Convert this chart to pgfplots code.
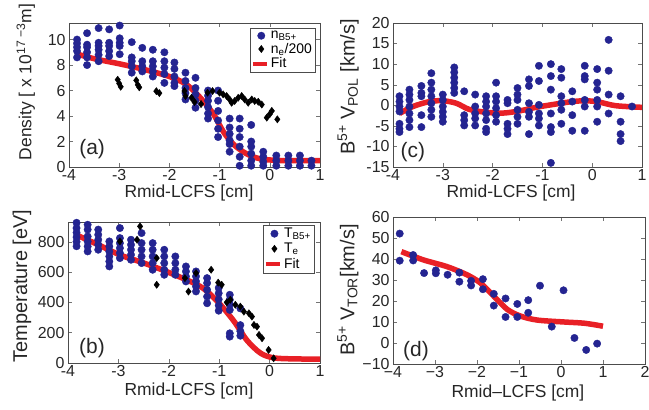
\documentclass[border=0pt]{standalone}
\usepackage{fontspec}
\setmainfont{Liberation Sans}
\usepackage{pgfplots}
\pgfplotsset{compat=1.18}
\definecolor{bluedot}{RGB}{36,36,145}
\definecolor{fitred}{RGB}{232,32,38}
\tikzset{panel label/.style={font=\fontsize{21}{23}\selectfont, text=black!85}}
\pgfplotsset{
  every axis/.append style={
    scale only axis, tick align=inside, clip=false,
    axis line style={black!70, line width=0.5pt},
    tick style={black!55, line width=0.4pt},
    major tick length=4bp,
    ticklabel style={font=\fontsize{16}{17}\selectfont, text=black!85},
    xticklabel style={inner sep=2pt},
    /pgf/number format/assume math mode=true,
    xlabel style={font=\fontsize{17.5}{19}\selectfont, text=black!85, anchor=center},
    ylabel style={font=\fontsize{20}{22}\selectfont, text=black!85, anchor=center, rotate=0},
    legend style={draw=black!70, font=\fontsize{14}{15}\selectfont, inner sep=1pt, row sep=-1pt, legend cell align=left},
  },
  blue dots/.style={only marks, mark=*, mark size=3.7bp, color=bluedot, mark options={fill=bluedot, draw=bluedot}},
  black dia/.style={only marks, mark=diamond*, mark size=3.6bp, color=black, mark options={fill=black}},
  fit line/.style={smooth, line width=5.5bp, color=fitred, no marks,
     legend image code/.code={\draw[fitred, line width=4bp] (0cm,0cm) -- (0.5cm,0cm);}},
}
\begin{document}
\begin{tikzpicture}
\useasboundingbox (0,0) rectangle (649bp,410bp);
% ---------------- (a)
\begin{axis}[at={(69bp,243bp)}, anchor=south west, width=251bp, height=144bp,
  xmin=-4, xmax=1, ymin=0, ymax=11.3, xtick={-4,-3,-2,-1,0,1}, ytick={0,2,4,6,8,10},
  xlabel={Rmid-LCFS [cm]}, xlabel style={at={(axis description cs:0.478,-0.178)}},
  ylabel={Density [ x 10\textsuperscript{17 −3}m]}, ylabel style={font=\fontsize{17.5}{19}\selectfont, at={(axis description cs:-0.172,0.59)}},
  legend style={at={(0.98,0.965)}, anchor=north east}]
\addplot[blue dots] coordinates {
(-3.84,10.0)(-3.84,9.7)(-3.84,9.4)(-3.84,9.1)(-3.84,8.6)
(-3.64,10.5)(-3.64,9.6)(-3.64,9.4)(-3.64,9.0)(-3.64,8.6)(-3.64,8.0)
(-3.41,10.9)(-3.41,9.75)(-3.41,9.5)(-3.41,9.2)(-3.41,8.8)(-3.41,8.3)
(-3.20,10.8)(-3.20,9.75)(-3.20,9.5)(-3.20,9.1)(-3.20,8.7)
(-2.99,11.1)(-2.99,10.1)(-2.99,9.75)(-2.99,9.5)(-2.99,8.85)
(-2.75,9.8)(-2.75,8.6)(-2.75,8.3)(-2.75,7.9)(-2.75,7.4)
(-2.54,9.35)(-2.54,8.3)(-2.54,7.9)(-2.54,7.5)
(-2.33,9.2)(-2.33,8.3)(-2.33,7.9)(-2.33,7.5)(-2.33,7.1)
(-2.10,9.0)(-2.10,8.3)(-2.10,7.8)(-2.10,7.3)(-2.10,6.6)
(-1.90,8.2)(-1.90,7.7)(-1.90,7.1)(-1.90,6.6)(-1.90,6.35)
(-1.68,7.4)(-1.68,6.75)(-1.68,6.2)(-1.68,5.8)(-1.68,5.3)
(-1.48,7.0)(-1.48,6.2)(-1.48,5.7)(-1.48,5.2)(-1.48,4.65)
(-1.23,6.0)(-1.23,5.6)(-1.23,5.2)(-1.23,4.7)(-1.23,4.2)(-1.23,3.8)
(-1.03,6.0)(-1.03,5.2)(-1.03,4.4)(-1.03,3.65)(-1.03,3.0)(-1.03,2.35)
(-0.80,3.8)(-0.80,3.1)(-0.80,2.6)(-0.80,2.1)(-0.80,1.8)(-0.80,1.2)
(-0.60,3.8)(-0.60,3.0)(-0.60,2.35)(-0.60,1.6)(-0.60,0.8)(-0.60,0.1)
(-0.37,3.3)(-0.37,2.0)(-0.37,1.6)(-0.37,1.05)(-0.37,0.5)(-0.37,0.1)
(-0.13,1.2)(-0.13,0.8)(-0.13,0.4)(-0.13,0.1)
(0.13,0.9)(0.13,0.5)(0.13,0.1)
(0.37,0.9)(0.37,0.5)(0.37,0.1)
(0.60,0.9)(0.60,0.5)(0.60,0.1)
(0.83,0.5)(0.83,0.1)
};
\addlegendentry{n\textsubscript{B5+}}
\addplot[black dia] coordinates {
(-3.03,6.85)(-3.0,6.55)(-2.97,6.3)(-2.66,6.8)(-2.63,6.45)(-2.6,6.25)(-2.26,5.95)(-2.2,5.8)
(-1.7,5.96)(-1.68,5.57)(-1.56,5.43)(-1.5,5.1)(-1.37,4.94)(-1.24,5.83)(-1.14,5.96)(-1.0,5.83)
(-0.93,5.7)(-0.86,5.57)(-0.8,5.3)(-0.76,5.04)(-0.7,5.18)(-0.63,5.43)(-0.56,5.57)(-0.5,5.3)
(-0.43,5.04)(-0.36,5.3)(-0.3,5.18)(-0.23,5.12)(-0.16,4.9)(-0.06,3.87)(0.0,4.15)(0.04,4.4)(0.15,3.74)
};
\addlegendentry{n\textsubscript{e}/200}
\addplot[fit line] coordinates {
(-3.87,8.9)(-3.5,8.5)(-3,8.1)(-2.5,7.65)(-2,7.1)(-1.67,6.5)(-1.4,5.5)(-1.13,4.2)(-0.93,2.8)
(-0.73,1.8)(-0.47,1.05)(-0.2,0.65)(0.13,0.52)(0.5,0.5)(1,0.5)
};
\addlegendentry{Fit}
\node[panel label] at (axis description cs:0.092,0.125) {(a)};
\end{axis}
% ---------------- (c)
\begin{axis}[at={(393bp,243bp)}, anchor=south west, width=249bp, height=144bp,
  xmin=-4, xmax=1, ymin=-15, ymax=20, xtick={-4,-3,-2,-1,0,1}, ytick={-15,-10,-5,0,5,10,15,20},
  xlabel={Rmid-LCFS [cm]}, xlabel style={at={(axis description cs:0.474,-0.178)}},
  ylabel={B\textsuperscript{5+} V\textsubscript{POL} [km/s]}, ylabel style={at={(axis description cs:-0.18,0.555)}}]
\addplot[blue dots] coordinates {
(-3.87,2.2)(-3.87,0.9)(-3.87,-0.3)(-3.87,-1.5)(-3.87,-4.5)(-3.87,-5.7)(-3.87,-6.5)
(-3.67,3.8)(-3.67,2.6)(-3.67,1.3)(-3.67,-0.3)(-3.67,-2.0)(-3.67,-3.6)(-3.67,-5.3)
(-3.43,4.7)(-3.43,3.0)(-3.43,2.2)(-3.43,-2.4)(-3.43,-5.3)
(-3.23,7.8)(-3.23,5.5)(-3.23,3.8)(-3.23,2.2)(-3.23,0.5)(-3.23,-1.1)(-3.23,-2.8)
(-3.0,2.6)(-3.0,1.3)(-3.0,-0.3)(-3.0,-1.6)(-3.0,-2.8)(-3.0,-4.0)
(-2.77,9.2)(-2.77,8.0)(-2.77,6.7)(-2.77,5.5)(-2.77,4.2)(-2.77,3.0)
(-2.57,3.4)(-2.57,-2.4)(-2.57,-3.6)(-2.57,-4.9)
(-2.35,2.6)(-2.35,-0.3)(-2.35,-2.0)(-2.35,-3.2)(-2.35,-4.9)
(-2.13,2.2)(-2.13,0.9)(-2.13,-0.3)(-2.13,-2.0)(-2.13,-3.6)(-2.13,-5.7)(-2.13,-6.5)
(-1.93,5.5)(-1.93,2.2)(-1.93,0.9)(-1.93,-0.7)(-1.93,-2.4)(-1.93,-4.0)
(-1.7,1.3)(-1.7,0.5)(-1.7,-4.5)(-1.7,-5.7)(-1.7,-7.0)
(-1.5,4.2)(-1.5,2.6)(-1.5,1.3)(-1.5,-1.1)(-1.5,-2.8)(-1.5,-4.5)
(-1.27,6.3)(-1.27,4.7)(-1.27,0.5)(-1.27,-1.6)(-1.27,-2.8)(-1.27,-7.0)
(-1.07,9.6)(-1.07,5.9)(-1.07,0.1)(-1.07,-2.0)(-1.07,-3.2)(-1.07,-4.9)
(-0.83,10.0)(-0.83,7.1)(-0.83,3.8)(-0.83,-2.0)(-0.83,-5.3)(-0.83,-6.5)(-0.83,-14.0)
(-0.62,8.8)(-0.62,6.7)(-0.62,2.2)(-0.62,0.5)(-0.62,-1.1)(-0.62,-4.5)
(-0.4,3.4)(-0.4,0.9)(-0.4,-2.4)(-0.4,-6.2)
(-0.15,9.6)(-0.15,7.1)(-0.15,6.3)(-0.15,1.3)(-0.15,-0.3)(-0.15,-6.2)
(0.1,8.8)(0.1,5.5)(0.1,3.8)(0.1,1.3)(0.1,-0.3)(0.1,-4.0)
(0.33,15.9)(0.33,8.4)(0.33,2.6)(0.33,-2.0)
(0.57,2.2)(0.57,-4.0)(0.57,-7.0)(0.57,-8.7)
(0.8,-0.3)
};
\addplot[fit line] coordinates {
(-3.87,-2.0)(-3.6,-0.3)(-3.27,0.9)(-3.0,1.1)(-2.73,0.5)(-2.47,-1.0)(-2.13,-1.7)(-1.8,-1.9)
(-1.47,-1.4)(-1.13,-0.5)(-0.73,0.3)(-0.4,0.9)(-0.13,1.1)(0.13,0.8)(0.47,-0.1)(1.0,-0.5)
};
\node[panel label] at (axis description cs:0.08,0.104) {(c)};
\end{axis}
% ---------------- (b)
\begin{axis}[at={(68bp,47bp)}, anchor=south west, width=252bp, height=141bp,
  xmin=-4, xmax=1, ymin=0, ymax=930, xtick={-4,-3,-2,-1,0,1}, ytick={0,200,400,600,800},
  xlabel={Rmid-LCFS [cm]}, xlabel style={at={(axis description cs:0.48,-0.2)}},
  ylabel={Temperature [eV]}, ylabel style={at={(axis description cs:-0.183,0.546)}},
  legend style={at={(0.976,0.979)}, anchor=north east, row sep=0pt}]
\addplot[blue dots] coordinates {
(-3.83,925)(-3.83,890)(-3.83,860)(-3.83,830)(-3.83,800)(-3.83,770)
(-3.61,912)(-3.61,880)(-3.61,835)(-3.61,802)(-3.61,769)(-3.61,736)
(-3.40,880)(-3.40,846)(-3.40,813)(-3.40,780)(-3.40,747)
(-3.18,802)(-3.18,769)(-3.18,736)(-3.18,703)(-3.18,670)(-3.18,637)
(-2.97,890)(-2.97,824)(-2.97,791)(-2.97,758)(-2.97,725)(-2.97,692)
(-2.75,813)(-2.75,780)(-2.75,747)(-2.75,714)(-2.75,681)
(-2.54,857)(-2.54,791)(-2.54,747)(-2.54,703)(-2.54,659)
(-2.32,791)(-2.32,747)(-2.32,703)(-2.32,659)(-2.32,615)
(-2.09,747)(-2.09,703)(-2.09,659)(-2.09,615)(-2.09,582)
(-1.87,703)(-1.87,659)(-1.87,615)(-1.87,582)
(-1.66,637)(-1.66,604)(-1.66,571)(-1.66,538)
(-1.46,604)(-1.46,571)(-1.46,538)(-1.46,505)(-1.46,472)
(-1.24,560)(-1.24,527)(-1.24,483)(-1.24,438)(-1.24,394)
(-1.01,495)(-1.01,460)(-1.01,420)(-1.01,380)(-1.01,345)
(-0.79,450)(-0.79,417)(-0.79,384)(-0.79,350)(-0.79,196)(-0.79,174)
(-0.58,360)(-0.58,250)(-0.58,210)(-0.58,180)
};
\addlegendentry{T\textsubscript{B5+}}
\addplot[black dia] coordinates {
(-2.97,802)(-2.63,813)(-2.57,901)(-2.24,692)(-2.24,516)(-1.68,560)(-1.61,471)(-1.46,593)
(-1.16,615)(-1.02,530)(-0.95,516)(-0.85,400)(-0.78,417)(-0.68,384)(-0.58,372)(-0.51,339)
(-0.41,328)(-0.35,306)(-0.31,251)(-0.25,240)(-0.21,185)(-0.15,163)(-0.02,86)(0.08,31)
};
\addlegendentry{T\textsubscript{e}}
\addplot[fit line] coordinates {
(-3.83,844)(-3.4,780)(-2.97,713)(-2.5,660)(-1.97,593)(-1.38,506)(-1.04,408)(-0.71,277)
(-0.45,150)(-0.18,65)(0.08,34)(0.5,27)(1.0,26)
};
\addlegendentry{Fit}
\node[panel label] at (axis description cs:0.095,0.106) {(b)};
\end{axis}
% ---------------- (d)
\begin{axis}[at={(393bp,46bp)}, anchor=south west, width=252bp, height=147bp,
  xmin=-4, xmax=2, ymin=-10, ymax=60, xtick={-4,-3,-2,-1,0,1,2},
  xticklabels={−4,−3,−2,−1,0,1,2},
  ytick={-10,0,10,20,30,40,50,60}, yticklabels={−10,0,10,20,30,40,50,60},
  xlabel={Rmid–LCFS [cm]}, xlabel style={at={(axis description cs:0.496,-0.195)}},
  ylabel={B\textsuperscript{5+} V\textsubscript{TOR}[km/s]}, ylabel style={at={(axis description cs:-0.179,0.503)}}]
\addplot[blue dots] coordinates {
(-3.84,52.1)(-3.84,39.2)(-3.52,41.9)(-3.52,39.3)(-3.26,33.3)(-2.98,34.6)(-2.98,33.2)
(-2.70,32.5)(-2.42,33.5)(-2.42,29.2)(-2.14,29.6)(-2.14,27.4)(-1.86,30.4)(-1.86,25.6)
(-1.6,23.4)(-1.6,17.8)(-1.32,21.2)(-1.32,12.4)(-1.04,18.6)(-1.04,12.4)(-0.78,20.4)(-0.78,14.4)
(-0.5,27.3)(-0.22,7.8)(0.06,25.1)(0.32,2.4)(0.6,-3.3)(0.86,-0.3)
};
\addplot[fit line] coordinates {
(-3.8,43.5)(-3.28,39.6)(-2.72,36.4)(-2.24,32.5)(-1.92,28.6)(-1.6,22.3)(-1.28,16.0)
(-0.96,12.8)(-0.56,10.9)(0.08,10.0)(0.56,9.4)(1.0,8.0)
};
\node[panel label] at (axis description cs:0.091,0.088) {(d)};
\end{axis}
\end{tikzpicture}
\end{document}
